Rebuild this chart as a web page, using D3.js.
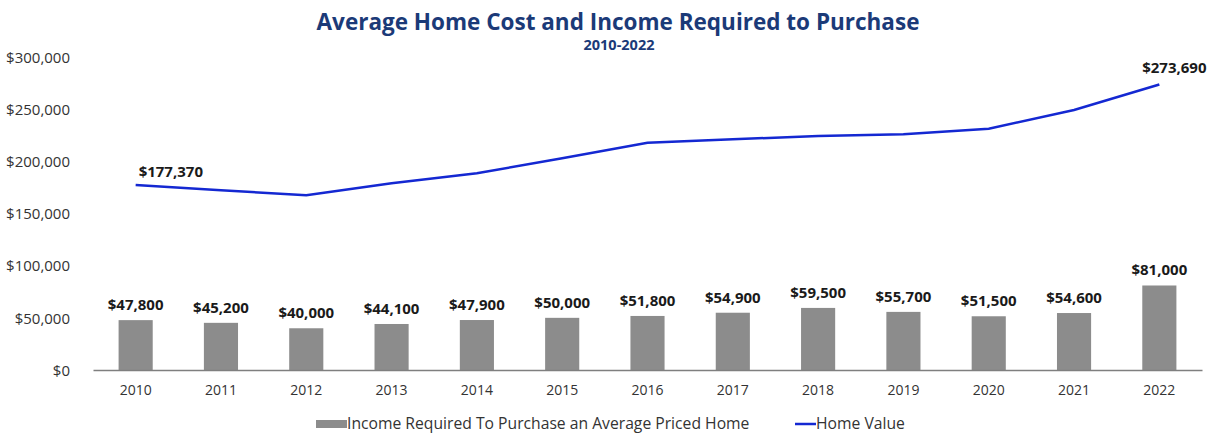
<html>
<head>
	<script src="https://d3js.org/d3.v7.min.js"></script>
	<style>
		body { margin: 0; background: #fff; }
		text { font-family: "Open Sans", sans-serif; }
	</style>
</head>
<body>
	<div id="chart"></div>
</body>
<script>
var years = ["2010", "2011", "2012", "2013", "2014", "2015", "2016", "2017", "2018", "2019", "2020", "2021", "2022"]
var incomeRequired = [47800, 45200, 40000, 44100, 47900, 50000, 51800, 54900, 59500, 55700, 51500, 54600, 81000]
var homeValue = [177370, 172400, 167400, 179000, 188500, 203000, 217900, 221100, 224300, 225900, 231300, 249200, 273690]
var yTicks = [0, 50000, 100000, 150000, 200000, 250000, 300000]

var width = 1215
var height = 434
var margin = {top: 57, right: 13, bottom: 64, left: 93}

var svg = d3.select("#chart")
	.append("svg")
	.attr("width", width)
	.attr("height", height)

var x = d3.scaleBand()
	.domain(years)
	.range([margin.left, width - margin.right])
	.paddingInner(0.6)
	.paddingOuter(0.3)

var y = d3.scaleLinear()
	.domain([0, 300000])
	.range([height - margin.bottom, margin.top])

var money = d3.format("$,")

// title
svg.append("text")
	.attr("x", 618)
	.attr("y", 30)
	.attr("text-anchor", "middle")
	.style("font-size", "22.5px")
	.style("font-weight", "bold")
	.style("fill", "#1b3a78")
	.text("Average Home Cost and Income Required to Purchase")

svg.append("text")
	.attr("x", 619)
	.attr("y", 50)
	.attr("text-anchor", "middle")
	.style("font-size", "14.5px")
	.style("font-weight", "bold")
	.style("fill", "#1b3a78")
	.text("2010-2022")

// y axis labels, no line
var yAxis = svg.append("g")
	.attr("transform", "translate(" + (margin.left - 20) + ",0)")
	.call(d3.axisLeft(y).tickValues(yTicks).tickFormat(money).tickSize(0))
yAxis.select(".domain").remove()
yAxis.selectAll("text")
	.style("font-size", "15px")
	.style("fill", "#333")
	.attr("dy", "0.35em")

// bars
svg.selectAll(".bar")
	.data(incomeRequired)
	.enter()
	.append("rect")
	.attr("class", "bar")
	.attr("x", function(d, i){ return x(years[i]) })
	.attr("y", function(d){ return y(d) })
	.attr("width", x.bandwidth())
	.attr("height", function(d){ return y(0) - y(d) })
	.style("fill", "#8c8c8c")

svg.selectAll(".barLabel")
	.data(incomeRequired)
	.enter()
	.append("text")
	.attr("class", "barLabel")
	.attr("x", function(d, i){ return x(years[i]) + x.bandwidth() / 2 })
	.attr("y", function(d){ return y(d) - 10 })
	.attr("text-anchor", "middle")
	.style("font-size", "15px")
	.style("font-weight", "bold")
	.style("fill", "#1a1a1a")
	.text(function(d){ return money(d) })

// x axis
var xAxis = svg.append("g")
	.attr("transform", "translate(0," + y(0) + ")")
	.call(d3.axisBottom(x).tickSize(0).tickSizeOuter(0))
xAxis.select(".domain")
	.style("stroke", "#7f7f7f")
	.style("stroke-width", 1.5)
xAxis.selectAll("text")
	.attr("dy", "1.55em")
	.style("font-size", "14px")
	.style("fill", "#333")

// home value line
var line = d3.line()
	.x(function(d, i){ return x(years[i]) + x.bandwidth() / 2 })
	.y(function(d){ return y(d) })

svg.append("path")
	.datum(homeValue)
	.attr("d", line)
	.style("fill", "none")
	.style("stroke", "#1428d2")
	.style("stroke-width", 2.5)

var last = homeValue.length - 1
svg.append("text")
	.attr("x", x(years[0]) + x.bandwidth() / 2 + 3)
	.attr("y", y(homeValue[0]) - 8)
	.style("font-size", "15px")
	.style("font-weight", "bold")
	.style("fill", "#1a1a1a")
	.text(money(homeValue[0]))

svg.append("text")
	.attr("x", x(years[last]) + x.bandwidth() / 2 + 15)
	.attr("y", y(homeValue[last]) - 11)
	.attr("text-anchor", "middle")
	.style("font-size", "15px")
	.style("font-weight", "bold")
	.style("fill", "#1a1a1a")
	.text(money(homeValue[last]))

// legend
var legend = svg.append("g")
legend.append("rect")
	.attr("x", 316)
	.attr("y", 420)
	.attr("width", 31)
	.attr("height", 8)
	.style("fill", "#8c8c8c")
legend.append("text")
	.attr("x", 347)
	.attr("y", 429)
	.style("font-size", "15.7px")
	.style("fill", "#333")
	.text("Income Required To Purchase an Average Priced Home")
legend.append("line")
	.attr("x1", 795)
	.attr("x2", 816)
	.attr("y1", 424)
	.attr("y2", 424)
	.style("stroke", "#1428d2")
	.style("stroke-width", 2.5)
legend.append("text")
	.attr("x", 816)
	.attr("y", 429)
	.style("font-size", "15.7px")
	.style("fill", "#333")
	.text("Home Value")
</script>
</html>
